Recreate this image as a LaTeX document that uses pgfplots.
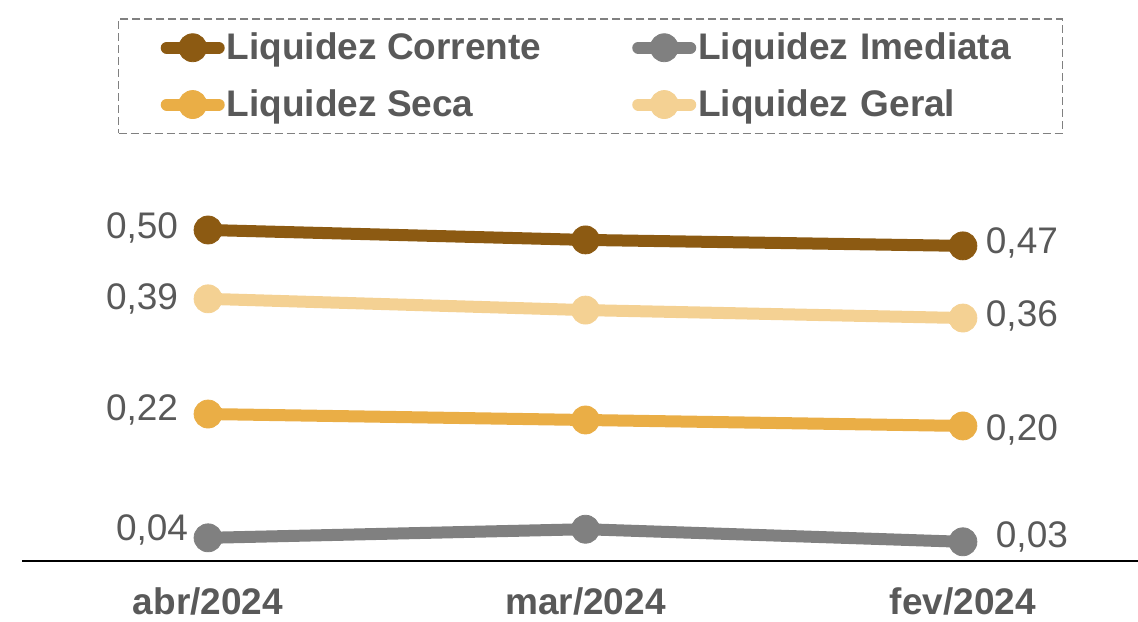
\documentclass[border=0pt]{standalone}
\usepackage{pgfplots}
\pgfplotsset{compat=1.18}
\usepackage{pgfplotstable}
\usepackage{fontspec}
\setmainfont{Liberation Sans}
\definecolor{corr}{HTML}{8C5A12}
\definecolor{imed}{HTML}{808080}
\definecolor{seca}{HTML}{EAAE46}
\definecolor{geral}{HTML}{F4D193}
\definecolor{labelgray}{HTML}{595959}
\definecolor{boxgray}{HTML}{808080}
\pgfplotstableread{
x y
0 0.500
1 0.485
2 0.476
}\corrente
\pgfplotstableread{
x y
0 0.035
1 0.048
2 0.029
}\imediata
\pgfplotstableread{
x y
0 0.222
1 0.213
2 0.204
}\seca
\pgfplotstableread{
x y
0 0.396
1 0.379
2 0.367
}\geral
\pgfplotstableread{
x y lab dx dy
0 0.500 0,50 -33 1
0 0.396 0,39 -33 0
0 0.222 0,22 -33 2
0 0.035 0,04 -28 4
2 0.476 0,47 29.5 1.5
2 0.367 0,36 29.5 1
2 0.204 0,20 29.5 -2
2 0.029 0,03 34.5 2.5
}\labels
\newcommand{\lblfont}{\fontsize{18.5}{22}\selectfont}
\begin{document}
\begin{tikzpicture}
\useasboundingbox (0,0) rectangle (569pt,310.5pt);
\begin{axis}[
  at={(11pt,30pt)}, anchor=south west,
  scale only axis, width=558pt, height=190.5pt,
  xmin=-0.493, xmax=2.464, ymin=0, ymax=0.5755,
  axis x line=bottom, axis y line=none,
  x axis line style={-, line width=0.75pt, black},
  xtick={0,1,2}, xticklabels={abr/2024,mar/2024,fev/2024},
  major tick length=0pt,
  xticklabel style={font=\lblfont\bfseries, text=labelgray, yshift=-10pt},
  clip=false,
  legend columns=2,
  legend cell align=left,
  legend image code/.code={\draw[mark repeat=2,mark phase=2,#1,solid,line cap=round] plot coordinates {(0pt,0pt) (13pt,0pt) (26pt,0pt)};},
  legend style={at={(0.086,1.425)}, anchor=north west,
    draw=boxgray, dash pattern=on 4pt off 2pt, line width=0.75pt,
    font=\lblfont\bfseries, text=labelgray,
    inner xsep=21pt, inner ysep=6pt, row sep=11.5pt,
    nodes={inner xsep=1pt, inner ysep=1pt},
    /tikz/every even column/.append style={column sep=44.5pt},
    /tikz/column 4/.style={nodes={text width=160pt}}},
]
\addplot[color=corr, line width=6pt, mark=*, mark size=7pt, mark options={solid, line width=0.4pt}] table[x=x,y=y] {\corrente};
\addlegendentry{Liquidez Corrente}
\addplot[color=imed, line width=6pt, mark=*, mark size=7pt, mark options={solid, line width=0.4pt}] table[x=x,y=y] {\imediata};
\addlegendentry{Liquidez Imediata}
\addplot[color=seca, line width=6pt, mark=*, mark size=7pt, mark options={solid, line width=0.4pt}] table[x=x,y=y] {\seca};
\addlegendentry{Liquidez Seca}
\addplot[color=geral, line width=6pt, mark=*, mark size=7pt, mark options={solid, line width=0.4pt}] table[x=x,y=y] {\geral};
\addlegendentry{Liquidez Geral}
\addplot[draw=none, no marks, forget plot,
  nodes near coords, point meta=explicit symbolic,
  visualization depends on={\thisrow{dx}\as\dx},
  visualization depends on={\thisrow{dy}\as\dy},
  every node near coord/.append style={anchor=center, xshift=\dx pt, yshift=\dy pt, font=\lblfont, text=labelgray}]
  table[x=x,y=y,meta=lab] {\labels};
\end{axis}
\end{tikzpicture}
\end{document}
